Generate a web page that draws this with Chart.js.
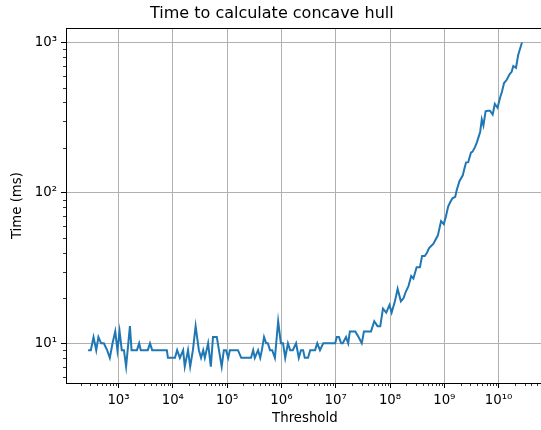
<!DOCTYPE html>
<html><head><meta charset="utf-8">
<script src="https://cdn.jsdelivr.net/npm/chart.js@4"></script>
<style>
html,body{margin:0;padding:0;overflow:hidden;background:#fff;width:541px;height:430px}
#wrap{width:560px;height:430px}
</style></head>
<body><div id="wrap"><canvas id="c" width="560" height="430"></canvas></div>
<script>
// log10 of the threshold for each sample
const thresholdExponents = [
 2.44,2.49,2.54,2.59,2.63,2.68,2.73,2.79,2.84,2.89,
 2.94,2.98,3.02,3.06,3.10,3.14,3.21,3.24,3.29,3.34,
 3.38,3.41,3.49,3.54,3.58,3.62,3.67,3.73,3.78,3.84,
 3.89,3.91,3.97,4.04,4.08,4.13,4.19,4.22,4.28,4.32,
 4.37,4.42,4.48,4.52,4.56,4.59,4.65,4.70,4.74,4.81,
 4.85,4.90,4.94,4.98,5.02,5.05,5.11,5.16,5.20,5.26,
 5.31,5.38,5.44,5.48,5.51,5.57,5.61,5.64,5.68,5.72,
 5.75,5.79,5.83,5.88,5.94,5.99,6.03,6.07,6.12,6.16,
 6.21,6.27,6.32,6.36,6.40,6.43,6.49,6.53,6.58,6.62,
 6.66,6.71,6.77,6.82,6.88,6.93,6.99,7.02,7.06,7.10,
 7.13,7.19,7.23,7.26,7.32,7.36,7.42,7.48,7.52,7.60,
 7.65,7.71,7.77,7.82,7.87,7.93,7.99,8.03,8.09,8.14,
 8.20,8.25,8.29,8.34,8.39,8.43,8.49,8.55,8.59,8.64,
 8.68,8.72,8.80,8.84,8.88,8.94,8.99,9.03,9.07,9.11,
 9.15,9.20,9.23,9.28,9.34,9.37,9.40,9.44,9.49,9.52,
 9.56,9.60,9.63,9.66,9.69,9.72,9.76,9.80,9.84,9.89,
 9.93,9.98,10.03,10.06,10.10,10.15,10.20,10.24,10.27,10.32,
 10.36,10.43
];
// time in ms for each sample
const timeMs = [
 9,9,11,9,11,10,10,9,8,10,
 12,9,12,9,9,7,13,9,9,9,
 10,9,9,9,10,9,9,9,9,9,
 9,8,8,8,9,8,9,7,9,7,
 9,13,9,8,9,8,10,7,11,11,
 9,7,9,9,8,9,9,9,9,8,
 8,8,8,9,8,9,8,9,11,10,
 10,9,9,8,14,10,10,8,10,9,
 9,10,8,9,9,8,8,9,9,9,
 10,9,10,10,10,10,10,11,11,10,
 10,11,10,12,12,12,11,10,12,12,
 12,14,13,13,17,16,18,16,19,23,
 19,20,22,24,28,27,32,32,38,38,
 40,43,46,49,52,65,62,70,81,87,
 92,94,105,120,131,145,159,160,185,188,
 200,217,235,254,308,281,349,352,352,332,
 390,368,434,469,538,565,615,638,698,679,
 825,1000
];
const xTickValues = [1e3,1e4,1e5,1e6,1e7,1e8,1e9,1e10];
const xTickLabels = ['10³','10⁴','10⁵','10⁶','10⁷','10⁸','10⁹','10¹⁰'];
const yTickValues = [1e1,1e2,1e3];
const yTickLabels = ['10¹','10²','10³'];
const chartTitle = 'Time to calculate concave hull';
const xTitle = 'Threshold';
const yTitle = 'Time (ms)';

const points = thresholdExponents.map((e, i) => ({x: Math.pow(10, e), y: timeMs[i]}));
const FONT = {family: "'DejaVu Sans', sans-serif", size: 13.3};

const frameAndMinor = {
  id: 'frameAndMinor',
  afterDraw(chart) {
    const ctx = chart.ctx, a = chart.chartArea;
    const xs = chart.scales.x, ys = chart.scales.y;
    ctx.save();
    ctx.strokeStyle = '#000';
    ctx.lineWidth = 1;
    ctx.beginPath();
    const ty = Math.round(a.top) + 0.5;
    ctx.moveTo(a.left, ty); ctx.lineTo(a.right, ty);
    ctx.stroke();
    ctx.lineWidth = 0.8;
    ctx.beginPath();
    for (let d = 1; d <= 11; d++) {
      for (let k = 2; k <= 9; k++) {
        const v = k * Math.pow(10, d);
        if (v > xs.min && v < xs.max) {
          const px = Math.round(xs.getPixelForValue(v)) + 0.5;
          ctx.moveTo(px, a.bottom); ctx.lineTo(px, a.bottom + 3);
        }
      }
    }
    for (let d = 0; d <= 3; d++) {
      for (let k = 2; k <= 9; k++) {
        const v = k * Math.pow(10, d);
        if (v > ys.min && v < ys.max) {
          const py = Math.round(ys.getPixelForValue(v)) + 0.5;
          ctx.moveTo(a.left - 3, py); ctx.lineTo(a.left, py);
        }
      }
    }
    ctx.stroke();
    ctx.restore();
  }
};

new Chart(document.getElementById('c'), {
  type: 'line',
  data: {
    datasets: [{
      data: points,
      borderColor: '#1f77b4',
      borderWidth: 2,
      pointRadius: 0,
      tension: 0,
      fill: false
    }]
  },
  plugins: [frameAndMinor],
  options: {
    responsive: false,
    animation: false,
    layout: {padding: {left: 0, right: 16.3, top: 0, bottom: 0}},
    plugins: {
      legend: {display: false},
      tooltip: {enabled: false},
      title: {
        display: true, text: chartTitle, color: '#000',
        font: {family: "'DejaVu Sans', sans-serif", size: 16, weight: 'normal'},
        padding: {top: 4, bottom: 5}
      }
    },
    scales: {
      x: {
        type: 'logarithmic',
        min: Math.pow(10, 2.033), max: Math.pow(10, 10.83),
        afterBuildTicks: s => { s.ticks = xTickValues.map(v => ({value: v})); },
        afterFit: s => { s.height = 47; },
        ticks: {
          autoSkip: false, maxRotation: 0, minRotation: 0, padding: 5,
          color: '#000', font: FONT,
          callback: v => { const i = xTickValues.indexOf(v); return i >= 0 ? xTickLabels[i] : ''; }
        },
        grid: {color: '#b0b0b0', lineWidth: 1, tickColor: '#000', tickLength: 5, drawTicks: true},
        border: {display: true, color: '#000', width: 1},
        title: {display: true, text: xTitle, color: '#000', font: FONT, padding: {top: 0, bottom: 3}}
      },
      y: {
        type: 'logarithmic',
        min: Math.pow(10, 0.736), max: Math.pow(10, 3.095),
        afterBuildTicks: s => { s.ticks = yTickValues.map(v => ({value: v})); },
        afterFit: s => { s.width = 66; },
        ticks: {
          padding: 4, color: '#000', font: FONT,
          callback: v => { const i = yTickValues.indexOf(v); return i >= 0 ? yTickLabels[i] : ''; }
        },
        grid: {color: '#b0b0b0', lineWidth: 1, tickColor: '#000', tickLength: 5, drawTicks: true},
        border: {display: true, color: '#000', width: 1},
        title: {display: true, text: yTitle, color: '#000', font: FONT, padding: {top: 10, bottom: 0}}
      }
    }
  }
});
</script>
</body></html>
